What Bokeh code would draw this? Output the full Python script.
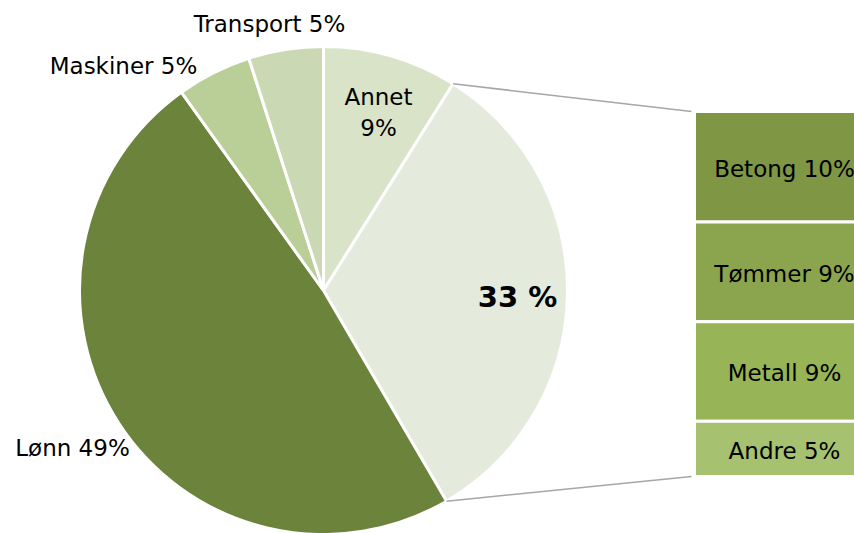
import math
from bokeh.plotting import figure
from bokeh.models import Range1d, ColumnDataSource
from bokeh.core.properties import value
from bokeh.embed import file_html
from bokeh.resources import INLINE

# ---- data ----
pie_labels = ["Annet", "Materialer", "Lønn", "Maskiner", "Transport"]
pie_values = [9, 33, 49, 5, 5]
pie_colors = ["#D9E3C7", "#E4EBDD", "#6B833B", "#BACF98", "#CBD8B4"]

bar_labels = ["Betong", "Tømmer", "Metall", "Andre"]
bar_values = [10, 9, 9, 5]
bar_colors = ["#7F9645", "#8AA54E", "#97B456", "#A6C270"]

W, H = 854, 533
FONT = "DejaVu Sans"

p = figure(width=W, height=H, output_backend="svg", toolbar_location=None,
           x_range=Range1d(0, W), y_range=Range1d(0, H),
           min_border=0, outline_line_color=None, background_fill_color="white")
p.axis.visible = False
p.grid.visible = False

# screen helper: data y = H - screen y
def sy(y):
    return H - y

# ---- pie ----
cx, cy, r = 323, sy(290), 244
total = sum(pie_values)
starts, ends = [], []
a = math.pi / 2
for v in pie_values:
    span = 2 * math.pi * v / total
    starts.append(a - span)
    ends.append(a)
    a -= span
src = ColumnDataSource(dict(start=starts, end=ends, color=pie_colors))
p.wedge(x=cx, y=cy, radius=r, radius_units="data", start_angle="start", end_angle="end",
        fill_color="color", line_color="white", line_width=3, source=src)

# ---- bar (stacked) ----
bx0, bx1 = 694, 874
btop, bbot = sy(111), sy(476)
bar_total = sum(bar_values)
scale = (btop - bbot) / bar_total
tops, bots = [], []
cur = btop
for v in bar_values:
    tops.append(cur)
    bots.append(cur - v * scale)
    cur -= v * scale
p.quad(left=bx0, right=bx1, top=tops, bottom=bots, fill_color=bar_colors,
       line_color="white", line_width=3)

# bar labels
p.text(x=[784] * 4, y=[(t + b) / 2 - 2 for t, b in zip(tops, bots)],
       text=[f"{l} {v}%" for l, v in zip(bar_labels, bar_values)],
       text_font=value(FONT), text_font_size="23px", text_color="black",
       text_align="center", text_baseline="middle")

# ---- connector lines ----
mat_start, mat_end = starts[1], ends[1]
p1 = (cx + r * math.cos(mat_end), cy + r * math.sin(mat_end))
p2 = (cx + r * math.cos(mat_start), cy + r * math.sin(mat_start))
p.segment(x0=[p1[0], p2[0]], y0=[p1[1], p2[1]], x1=[bx0 - 3, bx0 - 3], y1=[btop, bbot],
          line_color="#A6A6A6", line_width=1.5)

# ---- pie labels ----
p.text(x=[269, 123, 72], y=[sy(23), sy(65), sy(447)],
       text=[f"Transport {pie_values[4]}%", f"Maskiner {pie_values[3]}%", f"Lønn {pie_values[2]}%"],
       text_font=value(FONT), text_font_size="23px", text_color="black",
       text_align="center", text_baseline="middle")
p.text(x=[378, 378], y=[sy(96), sy(127)], text=["Annet", f"{pie_values[0]}%"],
       text_font=value(FONT), text_font_size="23px", text_color="black",
       text_align="center", text_baseline="middle")
p.text(x=[517], y=[sy(296)], text=[f"{pie_values[1]} %"],
       text_font=value(FONT), text_font_size="29px", text_font_style="bold",
       text_color="black", text_align="center", text_baseline="middle")

open("out.html", "w").write(file_html(p, INLINE))
